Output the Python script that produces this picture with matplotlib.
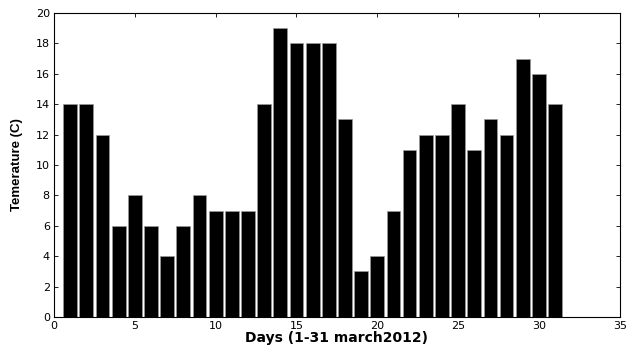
import matplotlib
matplotlib.use("Agg")
import matplotlib.pyplot as plt

days = list(range(1, 32))
temps = [14, 14, 12, 6, 8, 6, 4, 6, 8, 7, 7, 7, 14, 19, 18, 18, 18, 13, 3, 4, 7,
         11, 12, 12, 14, 11, 13, 12, 17, 16, 14]
xticks = [0, 5, 10, 15, 20, 25, 30, 35]
yticks = [0, 2, 4, 6, 8, 10, 12, 14, 16, 18, 20]

plt.rcParams['font.family'] = ['DejaVu Sans']
fig = plt.figure(figsize=(6.26, 3.49), dpi=100)
ax = fig.add_axes([0.0863, 0.0917, 0.9037, 0.8711])
ax.bar(days, temps, width=0.85, color='black', edgecolor='#999999', linewidth=0.5)
ax.set_xlim(0, 35)
ax.set_ylim(0, 20)
ax.set_xticks(xticks)
ax.set_yticks(yticks)
ax.tick_params(direction='in', top=True, right=True, labelsize=8, length=3, width=0.6, pad=3)
for s in ax.spines.values():
    s.set_linewidth(0.8)
ax.set_xlabel('Days (1-31 march2012)', fontsize=10, fontweight='bold', labelpad=0)
ax.set_ylabel('Temerature (C)', fontsize=9.5, fontweight='bold', labelpad=9,
              family=['Liberation Sans', 'DejaVu Sans'])
fig.savefig('out.png', dpi=100)
